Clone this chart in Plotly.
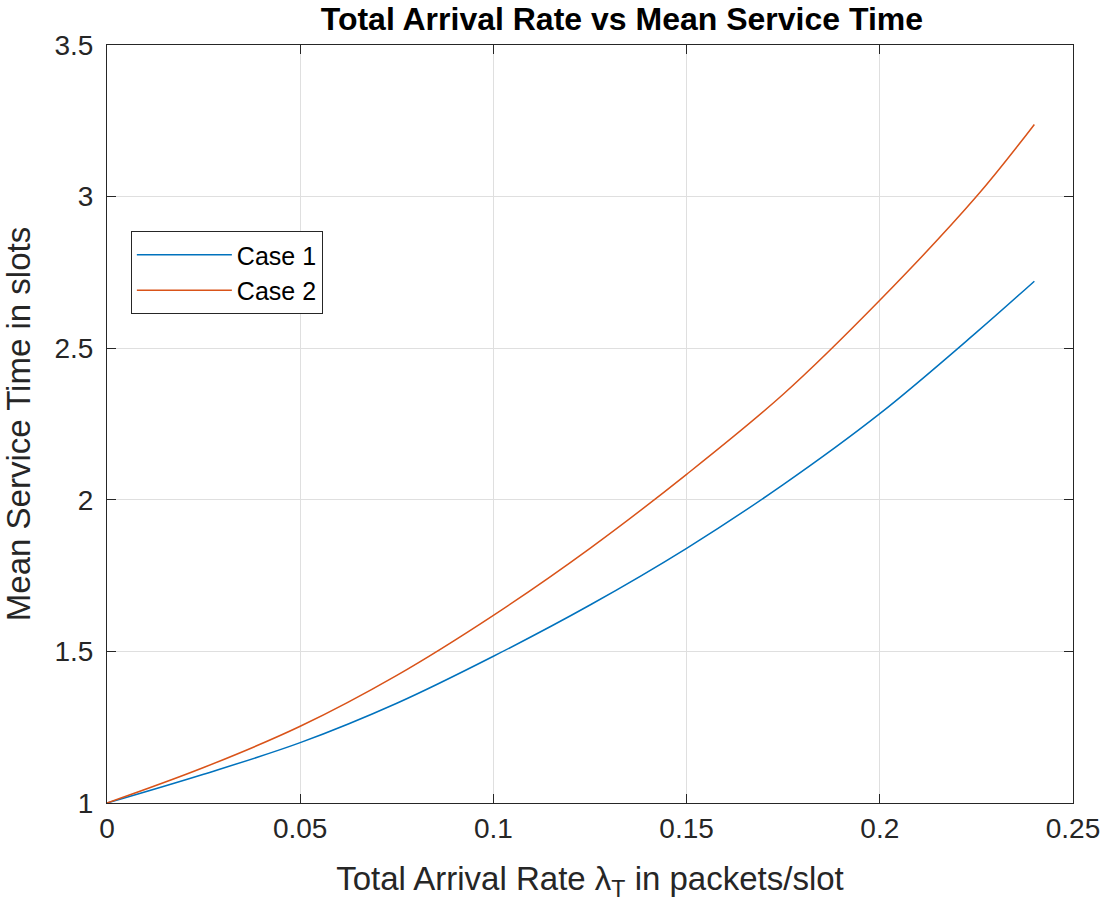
import plotly.graph_objects as go

# Data
arrival_rate = [0.0, 0.025, 0.05, 0.075, 0.1, 0.125, 0.15, 0.175, 0.2, 0.225, 0.24]
case1 = [1.0, 1.095, 1.199, 1.329, 1.484, 1.653, 1.840, 2.050, 2.284, 2.552, 2.721]
case2 = [1.0, 1.117, 1.253, 1.421, 1.619, 1.840, 2.084, 2.348, 2.658, 3.000, 3.238]

x_ticks = [0, 0.05, 0.1, 0.15, 0.2, 0.25]
x_tick_labels = ["0", "0.05", "0.1", "0.15", "0.2", "0.25"]
y_ticks = [1, 1.5, 2, 2.5, 3, 3.5]
y_tick_labels = ["1", "1.5", "2", "2.5", "3", "3.5"]

FONT = "Liberation Sans, Arial, Helvetica, sans-serif"
AXIS_COLOR = "#262626"
GRID_COLOR = "#dfdfdf"

fig = go.Figure()
fig.add_trace(go.Scatter(x=arrival_rate, y=case1, mode="lines", name="Case 1",
                         line=dict(color="#0072BD", width=1.5, shape="spline")))
fig.add_trace(go.Scatter(x=arrival_rate, y=case2, mode="lines", name="Case 2",
                         line=dict(color="#D95319", width=1.5, shape="spline")))

fig.update_layout(
    width=1112, height=907,
    margin=dict(l=107, r=33, t=45, b=104),
    paper_bgcolor="white", plot_bgcolor="white",
    font=dict(family=FONT, color=AXIS_COLOR),
    title=dict(text="<b>Total Arrival Rate vs Mean Service Time</b>",
               font=dict(family=FONT, size=32, color="black"),
               x=0.533, xanchor="center", xref="paper",
               y=1 - 19 / 907, yanchor="middle", yref="container"),
    legend=dict(x=0.0247, y=0.7545, xanchor="left", yanchor="top",
                bgcolor="white", bordercolor=AXIS_COLOR, borderwidth=1,
                font=dict(family=FONT, size=25, color="black"),
                itemwidth=95, tracegroupgap=0),
    showlegend=True,
)

fig.update_xaxes(
    range=[0, 0.25], tickmode="array", tickvals=x_ticks, ticktext=x_tick_labels,
    showgrid=True, gridcolor=GRID_COLOR, gridwidth=1, zeroline=False,
    showline=True, linecolor=AXIS_COLOR, linewidth=1, mirror="ticks",
    ticks="inside", ticklen=9, tickcolor=AXIS_COLOR, tickwidth=1,
    tickfont=dict(family=FONT, size=28, color=AXIS_COLOR),
    title=dict(text="Total Arrival Rate λ<sub>T</sub> in packets/slot",
               font=dict(family=FONT, size=33, color=AXIS_COLOR), standoff=24),
)
fig.update_yaxes(
    range=[1, 3.5], tickmode="array", tickvals=y_ticks, ticktext=y_tick_labels,
    showgrid=True, gridcolor=GRID_COLOR, gridwidth=1, zeroline=False,
    showline=True, linecolor=AXIS_COLOR, linewidth=1, mirror="ticks",
    ticks="inside", ticklen=9, tickcolor=AXIS_COLOR, tickwidth=1,
    tickfont=dict(family=FONT, size=28, color=AXIS_COLOR),
    ticklabelstandoff=7,
    title=dict(text="Mean Service Time in slots",
               font=dict(family=FONT, size=33, color=AXIS_COLOR), standoff=14),
)

fig.write_html("out.html", config={"displayModeBar": False},
               post_script="document.body.style.margin='0px';")
